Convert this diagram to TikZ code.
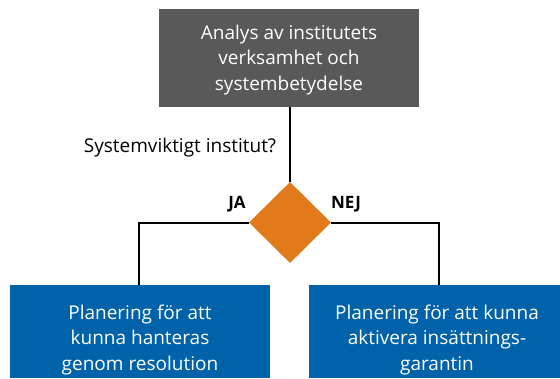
\documentclass[tikz,border=0pt]{standalone}
\usepackage{fontspec}
\setmainfont{Open Sans}
\usetikzlibrary{shapes.geometric}
\definecolor{boxgray}{HTML}{595959}
\definecolor{diaorange}{HTML}{E07A1A}
\definecolor{boxblue}{HTML}{0062A8}
\begin{document}
\begin{tikzpicture}[x=1pt,y=-1pt,
  box/.style={rectangle, draw=none, inner sep=0pt},
  graybox/.style={box, fill=boxgray, minimum width=260pt, minimum height=98pt},
  bluebox/.style={box, fill=boxblue, minimum height=93pt},
  boxtext/.style={font=\fontsize{19}{25.5}\selectfont, text=white, align=center, inner sep=0pt},
  plain/.style={font=\fontsize{19}{24}\selectfont, text=black, inner sep=0pt, anchor=base},
  answer/.style={font=\fontsize{17}{20}\selectfont\bfseries, text=black, inner sep=0pt, anchor=base},
  decision/.style={diamond, aspect=1, fill=diaorange, draw=none, inner sep=0pt, minimum width=82pt, minimum height=81pt},
  conn/.style={draw=black, line width=2pt}
]
\useasboundingbox (0,0) rectangle (560,378);

\node[graybox] (top) at (289,58) {};
\node[boxtext] (toptext) at (289,60) {Analys av institutets\\verksamhet och\\systembetydelse};

\node[decision] (dia) at (290,222.5) {};

\node[bluebox, minimum width=260pt] (left) at (140,331.5) {};
\node[boxtext] (lefttext) at (140,340) {Planering för att\\kunna hanteras\\genom resolution};

\node[bluebox, minimum width=251pt] (right) at (434.5,331.5) {};
\node[boxtext] (righttext) at (437,340) {Planering för att kunna\\aktivera insättnings-\\garantin};

\node[plain] (question) at (180,152) {Systemviktigt institut?};
\node[answer] (ja) at (237,208) {JA};
\node[answer] (nej) at (346,208) {NEJ};

\draw[conn] ([xshift=1pt]top.south) -- (dia.north);
\draw[conn] (dia.west) -| ([xshift=-1pt]left.north);
\draw[conn] (dia.east) -| ([xshift=4.5pt]right.north);
\end{tikzpicture}
\end{document}
